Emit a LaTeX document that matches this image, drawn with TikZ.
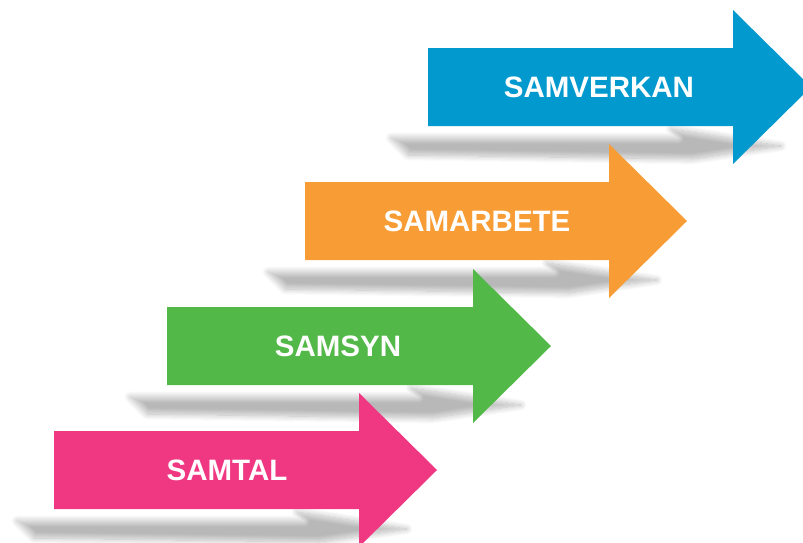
\documentclass[tikz,border=0pt]{standalone}
\usepackage{fontspec}
\setmainfont{Liberation Sans}
\usetikzlibrary{shadows.blur}
\definecolor{cblue}{RGB}{2,153,206}
\definecolor{corange}{RGB}{248,157,54}
\definecolor{cgreen}{RGB}{82,184,72}
\definecolor{cpink}{RGB}{239,55,130}
\newcommand\stepArrow[4]{%
  \path[shd] (#1-37,#2+90) -- (#3-55,#2+90) -- (#3-62,#2+81) -- (#3+48,#2+98) -- (#3-40,#2+111) -- (#1-20,#2+107) -- cycle;
  \fill[#4] (#1,#2) -- (#3,#2) -- (#3,#2-38) -- (#3+78,#2+39) -- (#3,#2+116) -- (#3,#2+78) -- (#1,#2+78) -- cycle;
}
\begin{document}
\begin{tikzpicture}[x=1pt,y=-1pt,
  lbl/.style={text=white,font=\bfseries\fontsize{29.5}{30}\selectfont,inner sep=0pt},
  shd/.style={blur shadow={shadow xshift=0pt,shadow yshift=0pt,shadow blur radius=6pt,shadow opacity=28,shadow blur steps=12}}]
\useasboundingbox (0,0) rectangle (803,542);
\clip (0,0) rectangle (803,542);
\stepArrow{428}{48}{733}{cblue}
\stepArrow{305}{182}{609}{corange}
\stepArrow{167}{307}{473}{cgreen}
\stepArrow{54}{431}{359}{cpink}
\node[lbl] (samverkan) at (599,87) {SAMVERKAN};
\node[lbl] (samarbete) at (477,221) {SAMARBETE};
\node[lbl] (samsyn) at (338,346) {SAMSYN};
\node[lbl] (samtal) at (227,470) {SAMTAL};
\end{tikzpicture}
\end{document}
